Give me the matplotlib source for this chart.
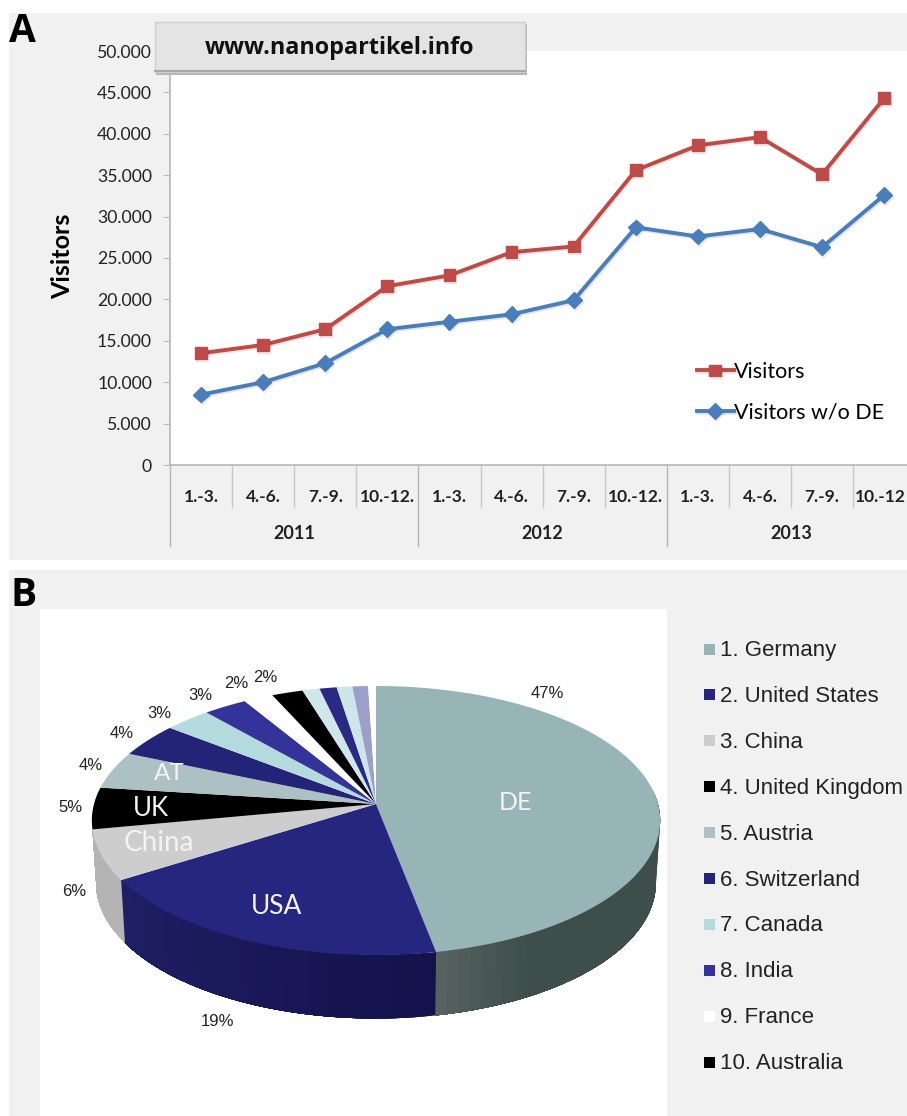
import numpy as np
import matplotlib
matplotlib.use('Agg')
import matplotlib.pyplot as plt
import matplotlib.patheffects as pe
from matplotlib.colors import to_rgb
from matplotlib.patches import Polygon, Rectangle
from matplotlib.transforms import ScaledTranslation

quarters = ['1.-3.', '4.-6.', '7.-9.', '10.-12.', '1.-3.', '4.-6.', '7.-9.', '10.-12.',
            '1.-3.', '4.-6.', '7.-9.', '10.-12']
years = ['2011', '2012', '2013']
visitors = [13500, 14500, 16400, 21600, 22900, 25700, 26400, 35600, 38600, 39600, 35100, 44300]
visitors_no_de = [8500, 10000, 12300, 16400, 17300, 18200, 19900, 28700, 27600, 28500, 26300, 32600]
y_ticks = [0, 5000, 10000, 15000, 20000, 25000, 30000, 35000, 40000, 45000, 50000]
y_labels = ['0', '5.000', '10.000', '15.000', '20.000', '25.000', '30.000', '35.000', '40.000',
            '45.000', '50.000']

shares = [47, 19, 6, 5, 4.5, 4.1, 3, 2.8, 1.9, 2, 1.1, 1.1, 1, 1, 0.5]
slice_colors = ['#97b5b6', '#26267f', '#cdcdcd', '#000000', '#adc0c3', '#232378', '#b5dadd', '#333399',
                '#ffffff', '#000000', '#cfe6ea', '#2a2a85', '#cde6ea', '#9d9fcb', '#ffffff']
wall_light = ['#55625f', '#1f1f66', '#b4b4b4']
wall_dark = ['#3e4e4b', '#14124a', '#b4b4b4']
countries = ['1. Germany', '2. United States', '3. China', '4. United Kingdom', '5. Austria',
             '6. Switzerland', '7. Canada', '8. India', '9. France', '10. Australia']
pct_labels = ['47%', '19%', '6%', '5%', '4%', '4%', '3%', '3%', '2%', '2%']
pct_x = [547, 217, 74, 70, 91, 122, 159, 200, 236, 265]
pct_y = [694, 1021, 892, 808, 765, 734, 713, 695, 684, 677]

W, H = 907, 1116
GRAY = '#f1f1f1'
fig = plt.figure(figsize=(W / 100, H / 100), dpi=100, facecolor='white')


def px_axes(z):
    a = fig.add_axes([0, 0, 1, 1], zorder=z)
    a.set_xlim(0, W)
    a.set_ylim(H, 0)
    a.axis('off')
    return a


bg = px_axes(0)
bg.add_patch(Rectangle((9, 13), W - 9, 547, fc=GRAY, ec='none'))
bg.add_patch(Rectangle((170, 51), W - 170, 414, fc='white', ec='none'))
bg.add_patch(Rectangle((9, 570), W - 9, H - 570, fc=GRAY, ec='none'))
bg.add_patch(Rectangle((40, 609), 627, H - 609, fc='white', ec='none'))
bg.text(9, 32, 'A', fontsize=28, fontweight='bold', family='Open Sans', va='center', ha='left')
bg.text(10, 596, 'B', fontsize=28, fontweight='bold', family='Open Sans', va='center', ha='left')

# panel A, line chart
ax = fig.add_axes([170 / W, 1 - 465 / H, (W - 170) / W, 414 / H], zorder=1)
ax.patch.set_alpha(0)
x = np.arange(12) + 0.5
shadow = [pe.SimpleLineShadow(offset=(0.8, -1.2), alpha=0.1), pe.Normal()]
ax.plot(x, visitors, color='#be4b48', lw=2.8, marker='s', ms=8.5, label='Visitors', path_effects=shadow)
ax.plot(x, visitors_no_de, color='#4a7ebb', lw=2.8, marker='D', ms=8, label='Visitors w/o DE', path_effects=shadow)
ax.set_xlim(0, (W - 170) / 62.1)
ax.set_ylim(0, 50000)
ax.set_yticks(y_ticks)
ax.set_yticklabels(y_labels, family='Lato', fontsize=12.7, color='#222222')
ax.set_xticks(x)
ax.set_xticklabels(quarters, family='Lato', fontsize=12.5, fontweight='bold', color='#222222')
ax.tick_params(axis='x', length=0, pad=17)
ax.tick_params(axis='y', length=5, color='#bbbbbb', pad=8)
# last label sits a little left of its point so it stays inside the picture
last = ax.get_xticklabels()[-1]
last.set_transform(last.get_transform() + ScaledTranslation(-4 / 100, 0, fig.dpi_scale_trans))
ax.spines[['top', 'right']].set_visible(False)
ax.spines[['left', 'bottom']].set_color('#bbbbbb')
ax.spines[['left', 'bottom']].set_linewidth(1.3)
ax.set_ylabel('Visitors', family='Lato', fontsize=18, fontweight='bold', labelpad=0)
ax.yaxis.set_label_coords(-96 / (W - 170), (465 - 256) / 414)
trans = ax.get_xaxis_transform()
for i in range(12):
    if i % 4 == 0:
        ax.plot([i, i], [0, -81 / 414], transform=trans, color='#b5b5b5', lw=1, clip_on=False)
    else:
        ax.plot([i, i], [0, -42 / 414], transform=trans, color='#c8c8c8', lw=1, clip_on=False)
for i, yr in enumerate(years):
    ax.text(4 * i + 2, -68 / 414, yr, transform=trans, family='Lato', fontsize=13, fontweight='bold',
            ha='center', va='center', color='#222222')
ax.legend(frameon=False, loc='upper left', bbox_to_anchor=((697 - 170) / (W - 170), (465 - 362) / 414),
          prop={'family': 'Lato', 'size': 15.5}, handlelength=1.7, handletextpad=0.0, labelspacing=0.95,
          borderpad=0, borderaxespad=0)

# panel B, perspective pie
CX, CY, A, B, K, DEPTH = 376.0, 804.0, 282.0, 132.5, 0.1227, 61.0


def rim(theta):
    sx, cy = np.sin(theta), np.cos(theta)
    w = 1 + K * cy
    return CX + A * sx / w, CY - B * cy / w


edges = np.cumsum([0] + shares) / sum(shares) * 2 * np.pi
right_extreme = np.radians(84)
left_extreme = np.radians(263)

for i in range(3):
    t0, t1 = max(edges[i], right_extreme), min(edges[i + 1], left_extreme)
    ts = np.linspace(t0, t1, 40)
    for j in range(len(ts) - 1):
        # each piece runs to the slice end, the next one paints over it, so no seams show
        tt = np.linspace(ts[j], t1, 80)
        xs, ys = rim(tt)
        xb = CX + (xs - CX) * 0.985
        yb = ys + DEPTH + 2.5 * (1 - np.cos(tt)) / 2
        f = j / (len(ts) - 2)
        if i == 0:
            f = max(0, (f - 0.8) / 0.2)  # only the part next to the USA slice is lighter
        col = np.array(to_rgb(wall_dark[i])) * (1 - f) + np.array(to_rgb(wall_light[i])) * f
        bg.add_patch(Polygon(np.r_[np.c_[xs, ys], np.c_[xb, yb][::-1]], fc=col, ec='none'))

for i, col in enumerate(slice_colors):
    tt = np.linspace(edges[i], edges[i + 1], 80)
    xs, ys = rim(tt)
    pts = np.r_[[[CX, CY]], np.c_[xs, ys]]
    bg.add_patch(Polygon(pts, fc=col, ec='none', zorder=3))

for lab, lx, ly in zip(pct_labels, pct_x, pct_y):
    bg.text(lx, ly, lab, family='Liberation Sans', fontsize=12, ha='center', va='center', color='#222222', zorder=4)
for lab, lx, ly, fs in [('DE', 515, 802, 18), ('USA', 277, 907, 19), ('China', 159, 843, 20),
                        ('UK', 151, 808, 18.5), ('AT', 169, 774, 17.5)]:
    bg.text(lx, ly, lab, family='Lato', fontsize=fs, ha='center', va='center', color='#f4f4f4', zorder=4)

for i, name in enumerate(countries):
    yc = 649 + i * 45.9
    bg.add_patch(Rectangle((704, yc - 5.5), 11, 11, fc=slice_colors[i], ec='none', zorder=4))
    bg.text(720, yc + 1.5, name, family='Liberation Sans', fontsize=16, va='center', ha='left', color='#222222', zorder=4)

# title button, sits on top of the axis line
top = px_axes(3)
top.patch.set_alpha(0)
top.add_patch(Rectangle((156, 24), 371, 51, fc='#b5b5b5', ec='none'))
top.add_patch(Rectangle((155, 22), 370, 50, fc='#e4e4e4', ec='#cfcfcf', lw=1))
top.plot([155, 525], [71, 71], color='#a8a8a8', lw=1.5)
top.text(340, 48, 'www.nanopartikel.info', family='Open Sans', fontsize=16.8, fontweight='bold',
         ha='center', va='center', color='#111111')

fig.savefig('out.png', dpi=100)
